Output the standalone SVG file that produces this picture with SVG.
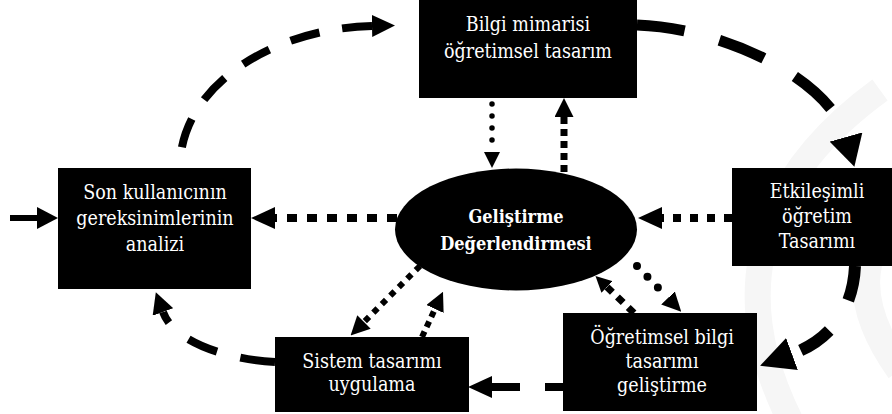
<svg xmlns="http://www.w3.org/2000/svg" width="892" height="414" viewBox="0 0 892 414">
  <defs>
    <style>
      .box { fill: #000; }
      .lbl { font-family: 'DejaVu Serif', 'Liberation Serif', serif; font-stretch: condensed; font-size: 19.5px; fill: #fff; text-anchor: middle; }
      .lblb { font-family: 'DejaVu Serif', 'Liberation Serif', serif; font-stretch: condensed; font-size: 18px; font-weight: bold; fill: #fff; text-anchor: middle; }
      .dash { fill: none; stroke: #000; stroke-linecap: butt; }
      .dot { fill: none; stroke: #000; stroke-linecap: butt; }
      .rdot { fill: none; stroke: #000; stroke-linecap: round; }
      .wm { fill: none; stroke: #f6f6f6; }
    </style>
    <!-- arrowheads: base at the path end, tip pointing forward -->
    <marker id="ahA" markerUnits="userSpaceOnUse" orient="auto-start-reverse" markerWidth="23" markerHeight="22" viewBox="0 0 23 22" refX="0" refY="11">
      <path d="M0,0 L23,11 L0,22 Z" fill="#000"/>
    </marker>
    <marker id="ahB" markerUnits="userSpaceOnUse" orient="auto" markerWidth="31" markerHeight="34" viewBox="0 0 31 34" refX="0" refY="17">
      <path d="M0,0 L31,17 L0,34 Z" fill="#000"/>
    </marker>
    <marker id="ahC" markerUnits="userSpaceOnUse" orient="auto" markerWidth="34" markerHeight="34" viewBox="0 0 34 34" refX="0" refY="17">
      <path d="M0,0 L34,17 L0,34 Z" fill="#000"/>
    </marker>
    <marker id="ahS" markerUnits="userSpaceOnUse" orient="auto" markerWidth="21" markerHeight="22" viewBox="0 0 21 22" refX="0" refY="11">
      <path d="M0,0 L21,11 L0,22 Z" fill="#000"/>
    </marker>
    <marker id="ahD" markerUnits="userSpaceOnUse" orient="auto" markerWidth="24" markerHeight="22" viewBox="0 0 24 22" refX="0" refY="11">
      <path d="M0,0 L24,11 L0,22 Z" fill="#000"/>
    </marker>
    <marker id="ahM" markerUnits="userSpaceOnUse" orient="auto" markerWidth="19" markerHeight="19" viewBox="0 0 19 19" refX="0" refY="9.5">
      <path d="M0,0 L19,9.5 L0,19 Z" fill="#000"/>
    </marker>
    <marker id="ahT" markerUnits="userSpaceOnUse" orient="auto" markerWidth="16" markerHeight="16" viewBox="0 0 16 16" refX="0" refY="8">
      <path d="M0,0 L16,8 L0,16 Z" fill="#000"/>
    </marker>
  </defs>

  <rect width="892" height="414" fill="#fff"/>

  <!-- faint background emblem -->
  <g id="emblem">
    <path class="wm" stroke-width="26" d="M880,90 C770,170 720,280 790,420"/>
    <path class="wm" stroke-width="28" d="M900,210 C860,250 850,300 900,370"/>
  </g>

  <g id="connectors">
    <!-- incoming arrow -->
    <path class="dash" stroke-width="6" d="M10,218 H37" marker-end="url(#ahS)"/>
    <!-- main cycle (dashed) -->
    <path class="dash" stroke-width="8" stroke-dasharray="30 23" d="M372,26 C280,28 185,80 180,162" marker-start="url(#ahA)"/>
    <path class="dash" stroke-width="11" stroke-dasharray="48 36" d="M637,25 C725,28 830,80 846,137" marker-end="url(#ahB)"/>
    <path class="dash" stroke-width="12" stroke-dasharray="35 36" d="M855,266 C853,310 830,340 792,354" marker-end="url(#ahC)"/>
    <path class="dash" stroke-width="8" d="M563,387 H545 M520,387 H492" marker-end="url(#ahD)"/>
    <path class="dash" stroke-width="8" stroke-dasharray="35 24 31 26 14 100" d="M275,362 C235,360 175,345 163,312" marker-end="url(#ahS)"/>
    <!-- evaluation links (dotted) -->
    <path class="dot" stroke-width="8" stroke-dasharray="10 10" d="M397,218 H275" marker-end="url(#ahD)"/>
    <path class="dot" stroke-width="8" stroke-dasharray="8 9" d="M732,218 H662" marker-end="url(#ahD)"/>
    <path class="rdot" stroke-width="5.5" stroke-dasharray="0 12" d="M492,104 V152" marker-end="url(#ahT)"/>
    <path class="dot" stroke-width="7" stroke-dasharray="7 5" d="M564,172 V117" marker-end="url(#ahM)"/>
    <path class="dot" stroke-width="6" stroke-dasharray="6 6" d="M420,266 L364,322" marker-end="url(#ahM)"/>
    <path class="dot" stroke-width="6" stroke-dasharray="6 5" d="M422,337 L435,309" marker-end="url(#ahM)"/>
    <path class="dot" stroke-width="7" stroke-dasharray="8 7" d="M634,313 L607,287" marker-end="url(#ahT)"/>
    <path class="rdot" stroke-width="8" stroke-dasharray="0 15" d="M637,266 L668,298" marker-end="url(#ahM)"/>
  </g>

  <g id="node-bilgi">
    <rect class="box" x="419" y="-1" width="218" height="99"/>
    <text class="lbl" x="528" y="31">Bilgi mimarisi</text>
    <text class="lbl" x="528" y="58">öğretimsel tasarım</text>
  </g>

  <g id="node-analiz">
    <rect class="box" x="58" y="168" width="193" height="121"/>
    <text class="lbl" x="155" y="199">Son kullanıcının</text>
    <text class="lbl" x="155" y="225">gereksinimlerinin</text>
    <text class="lbl" x="155" y="251">analizi</text>
  </g>

  <g id="node-degerlendirme">
    <ellipse cx="516" cy="229.5" rx="121" ry="61" fill="#000"/>
    <text class="lblb" x="516" y="223">Geliştirme</text>
    <text class="lblb" x="516" y="250">Değerlendirmesi</text>
  </g>

  <g id="node-etkilesimli">
    <rect class="box" x="732" y="168" width="170" height="98"/>
    <text class="lbl" x="817" y="198">Etkileşimli</text>
    <text class="lbl" x="817" y="223">öğretim</text>
    <text class="lbl" x="817" y="248">Tasarımı</text>
  </g>

  <g id="node-ogretimsel">
    <rect class="box" x="563" y="313" width="194" height="98"/>
    <text class="lbl" x="662" y="344">Öğretimsel bilgi</text>
    <text class="lbl" x="662" y="368">tasarımı</text>
    <text class="lbl" x="662" y="392">geliştirme</text>
  </g>

  <g id="node-sistem">
    <rect class="box" x="275" y="337" width="194" height="75"/>
    <text class="lbl" x="372" y="368">Sistem tasarımı</text>
    <text class="lbl" x="372" y="391">uygulama</text>
  </g>
</svg>
